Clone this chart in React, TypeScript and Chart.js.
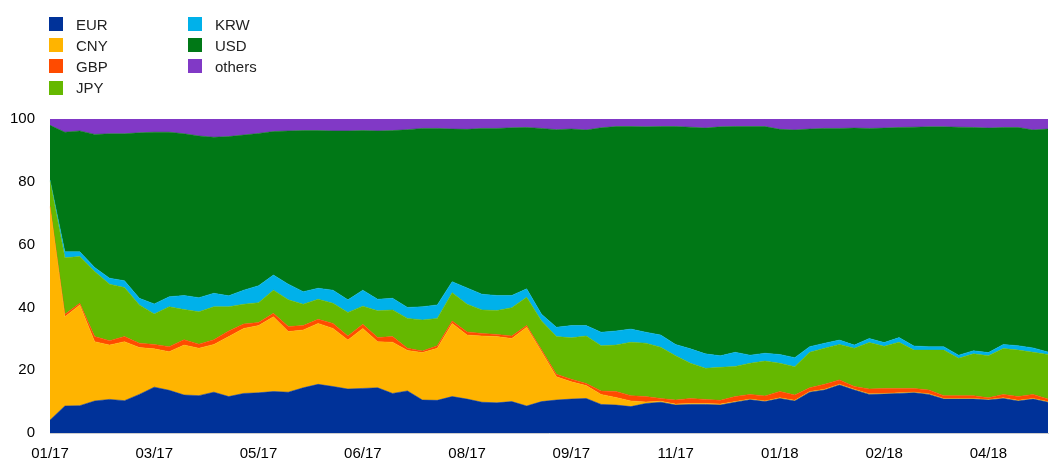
import React, { useEffect, useRef } from "react";
import { Chart, registerables } from "chart.js";

Chart.register(...registerables);

const tickLabels = ["01/17", "03/17", "05/17", "06/17", "08/17", "09/17", "11/17", "01/18", "02/18", "04/18"];
const tickEvery = 7;
const pointCount = 68;

const eur = [4.1, 8.6, 8.7, 10.2, 10.7, 10.3, 12.3, 14.6, 13.6, 12.1,
  11.9, 13.0, 11.6, 12.6, 12.8, 13.2, 13.0, 14.4, 15.5, 14.8,
  14.0, 14.2, 14.4, 12.6, 13.4, 10.5, 10.4, 11.6, 10.8, 9.8,
  9.6, 10.0, 8.6, 10.0, 10.5, 10.8, 11.0, 9.1, 8.9, 8.4,
  9.4, 9.8, 8.9, 9.1, 9.1, 8.9, 9.8, 10.6, 10.0, 11.0,
  10.2, 13.0, 13.7, 15.3, 13.7, 12.3, 12.4, 12.6, 12.8, 12.3,
  10.8, 10.8, 10.8, 10.5, 11.0, 10.2, 10.8, 9.8];
const cny = [67.9, 28.4, 32.1, 18.9, 17.3, 18.8, 14.9, 12.2, 12.3, 15.9,
  15.1, 15.2, 19.1, 20.7, 21.4, 23.8, 19.3, 18.4, 19.4, 18.5,
  15.6, 19.1, 14.7, 16.3, 12.9, 15.1, 16.6, 23.3, 20.4, 21.1,
  21.1, 20.1, 25.1, 15.9, 7.4, 5.5, 4.1, 3.2, 2.4, 1.8,
  0.5, 0.3, 0.3, 0.3, 0.3, 0.3, 0.2, 0.2, 0.2, 0.2,
  0.2, 0.2, 0.2, 0.2, 0.2, 0.2, 0.2, 0.2, 0.2, 0.2,
  0.2, 0.2, 0.2, 0.2, 0.2, 0.2, 0.2, 0.2];
const gbp = [0.3, 0.8, 0.5, 1.6, 1.4, 1.6, 1.4, 1.4, 1.6, 1.7,
  1.3, 1.5, 1.8, 1.4, 1.0, 1.1, 1.6, 1.4, 1.3, 1.6,
  1.3, 1.3, 1.3, 1.8, 0.7, 0.5, 0.8, 0.8, 1.0, 0.8,
  0.7, 0.8, 0.5, 0.6, 0.8, 0.8, 0.7, 1.1, 1.9, 1.7,
  1.7, 0.9, 1.3, 1.6, 1.3, 1.2, 1.6, 1.5, 1.6, 2.0,
  1.7, 1.2, 1.6, 1.4, 0.9, 1.5, 1.6, 1.4, 1.2, 1.2,
  0.9, 0.9, 0.9, 0.5, 1.1, 1.2, 1.3, 0.8];
const jpy = [8.0, 18.0, 14.9, 20.7, 18.0, 15.6, 12.2, 9.7, 12.7, 9.6,
  10.3, 10.5, 7.7, 6.3, 6.3, 7.4, 8.5, 6.8, 6.4, 6.4,
  7.5, 5.8, 8.5, 8.5, 9.5, 9.9, 8.7, 9.0, 8.8, 7.5,
  7.6, 9.0, 9.0, 9.2, 12.0, 13.2, 15.1, 14.4, 14.8, 17.0,
  17.0, 16.3, 14.1, 11.2, 9.9, 10.5, 9.6, 9.9, 11.1, 9.0,
  9.0, 11.3, 11.5, 11.3, 12.2, 14.8, 13.4, 14.7, 12.2, 12.7,
  14.5, 11.9, 13.3, 13.4, 14.6, 14.8, 13.4, 14.2];
const krw = [0.3, 1.9, 1.5, 1.3, 1.9, 2.2, 2.1, 3.2, 3.2, 4.5,
  4.5, 4.3, 3.5, 4.5, 5.4, 4.8, 5.0, 4.0, 3.5, 4.2,
  4.0, 5.1, 3.7, 3.7, 3.5, 4.2, 4.3, 3.5, 5.2, 5.0,
  4.8, 3.9, 2.7, 2.1, 3.0, 3.9, 3.3, 4.3, 4.5, 4.2,
  3.5, 3.9, 3.6, 4.6, 4.6, 3.7, 4.5, 2.6, 2.5, 2.8,
  2.9, 1.8, 1.6, 1.4, 1.0, 1.3, 1.2, 1.5, 1.3, 1.1,
  1.1, 1.0, 1.0, 1.0, 1.3, 1.4, 1.4, 0.8];
const usd = [17.4, 38.1, 38.5, 42.4, 46.0, 46.8, 52.7, 54.7, 52.4, 51.5,
  51.5, 49.7, 50.7, 49.4, 48.5, 45.7, 48.8, 51.3, 50.2, 50.7,
  53.8, 50.8, 53.6, 53.4, 56.6, 56.8, 56.2, 48.6, 50.5, 52.8,
  53.2, 53.4, 51.4, 59.2, 62.9, 62.6, 62.3, 65.1, 65.1, 64.5,
  65.4, 66.4, 69.4, 70.6, 71.9, 72.9, 71.9, 72.8, 72.2, 71.7,
  72.5, 69.3, 68.4, 67.4, 69.1, 66.9, 68.3, 66.9, 69.7, 70.0,
  70.0, 72.6, 71.1, 71.5, 69.1, 69.5, 69.4, 71.0];
const others = [2.0, 4.2, 3.8, 4.9, 4.7, 4.7, 4.4, 4.2, 4.2, 4.7,
  5.4, 5.8, 5.6, 5.1, 4.6, 4.0, 3.8, 3.7, 3.7, 3.8,
  3.8, 3.7, 3.8, 3.7, 3.4, 3.0, 3.0, 3.2, 3.3, 3.0,
  3.0, 2.8, 2.7, 3.0, 3.4, 3.2, 3.5, 2.8, 2.4, 2.4,
  2.5, 2.4, 2.4, 2.6, 2.9, 2.5, 2.4, 2.4, 2.4, 3.3,
  3.5, 3.2, 3.0, 3.0, 2.9, 3.0, 2.9, 2.7, 2.6, 2.5,
  2.5, 2.6, 2.7, 2.9, 2.7, 2.7, 3.5, 3.2];

const seriesNames = ["EUR", "CNY", "GBP", "JPY", "KRW", "USD", "others"];
const seriesColors = ["#003299", "#FFB400", "#FF4B00", "#65B800", "#00B1EA", "#007816", "#8139C6"];
const seriesData = [eur, cny, gbp, jpy, krw, usd, others];

const FONT = "'Liberation Sans', Arial, sans-serif";

export default function App() {
  const ref = useRef<HTMLCanvasElement | null>(null);

  useEffect(() => {
    if (!ref.current) return;
    const labels = Array.from({ length: pointCount }, (_, i) => String(i));
    const chart = new Chart(ref.current, {
      type: "line",
      data: {
        labels,
        datasets: seriesNames.map((name, i) => ({
          label: name,
          data: seriesData[i],
          backgroundColor: seriesColors[i],
          borderColor: seriesColors[i],
          borderWidth: 0.5,
          pointRadius: 0,
          tension: 0,
          fill: i === 0 ? "origin" : "-1",
        })),
      },
      options: {
        animation: false,
        responsive: false,
        maintainAspectRatio: false,
        layout: { padding: { top: 119, right: 1, left: 0, bottom: 0 } },
        plugins: { legend: { display: false }, tooltip: { enabled: false } },
        scales: {
          x: {
            type: "category",
            offset: false,
            grid: { display: false, drawTicks: false },
            border: { display: true, color: "#cccccc" },
            ticks: {
              autoSkip: false,
              maxRotation: 0,
              padding: 12,
              color: "#000",
              font: { family: FONT, size: 15 },
              callback: (_v: any, i: number) => (i % tickEvery === 0 ? tickLabels[i / tickEvery] ?? "" : ""),
            },
            afterFit: (s: any) => {
              s.height = 26;
              s.paddingRight = 0;
              s.paddingLeft = 0;
            },
          },
          y: {
            stacked: true,
            min: 0,
            max: 100,
            grid: { display: false, drawTicks: false },
            border: { display: true, color: "#cccccc" },
            ticks: {
              stepSize: 20,
              padding: 15,
              color: "#000",
              font: { family: FONT, size: 15 },
            },
            afterFit: (s: any) => { s.width = 50; },
          },
        },
      },
    });
    return () => chart.destroy();
  }, []);

  const legendItems = seriesNames.map((name, i) => {
    const col = i < 4 ? 0 : 1;
    const row = i < 4 ? i : i - 4;
    return (
      <div
        key={name}
        style={{
          position: "absolute",
          left: col === 0 ? 49 : 188,
          top: 17 + row * 21.2,
          height: 14,
          display: "flex",
          alignItems: "center",
          fontFamily: FONT,
          fontSize: 15,
          color: "#222",
          whiteSpace: "nowrap",
        }}
      >
        <span style={{ width: 14, height: 14, background: seriesColors[i], display: "inline-block", marginRight: 13 }} />
        <span>{name}</span>
      </div>
    );
  });

  return (
    <div style={{ position: "absolute", left: 0, top: 0, width: 1049, height: 459, background: "#fff" }}>
      <canvas ref={ref} width={1049} height={459} style={{ position: "absolute", left: 0, top: 0 }} />
      {legendItems}
    </div>
  );
}
